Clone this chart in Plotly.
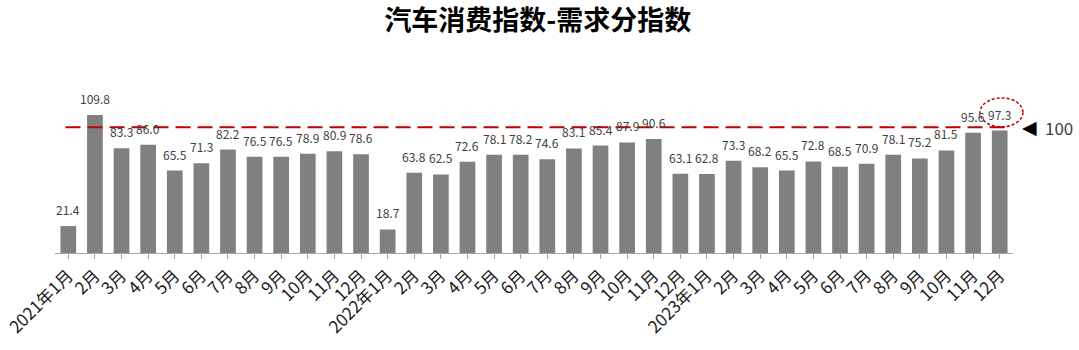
import plotly.graph_objects as go

# Monthly demand sub-index, Jan 2021 - Dec 2023
months = (["2021年1月"] + [f"{m}月" for m in range(2, 13)]
          + ["2022年1月"] + [f"{m}月" for m in range(2, 13)]
          + ["2023年1月"] + [f"{m}月" for m in range(2, 13)])
values = [21.4, 109.8, 83.3, 86.0, 65.5, 71.3, 82.2, 76.5, 76.5, 78.9, 80.9, 78.6,
          18.7, 63.8, 62.5, 72.6, 78.1, 78.2, 74.6, 83.1, 85.4, 87.9, 90.6, 63.1,
          62.8, 73.3, 68.2, 65.5, 72.8, 68.5, 70.9, 78.1, 75.2, 81.5, 95.6, 97.3]
reference_level = 100

# unique category keys so repeated month names stay separate
keys = list(range(len(months)))

FONT = "Noto Sans CJK SC"

fig = go.Figure(go.Bar(
    x=keys, y=values,
    marker=dict(color="#808080", line=dict(width=0)),
    hoverinfo="x+y",
))

# value labels above each bar
for k, v in zip(keys, values):
    fig.add_annotation(x=k, y=v, text=f"{v:.1f}", showarrow=False,
                       yanchor="bottom", yshift=6,
                       font=dict(family=FONT, size=12, color="#404040"))

# dashed reference line at 100
fig.add_shape(type="line", xref="paper", yref="y",
              x0=0.011, x1=0.997, y0=reference_level, y1=reference_level,
              line=dict(color="#C00000", width=2, dash="15px,7px"))

# dotted ring around the latest value
fig.add_shape(type="circle", xref="paper", yref="y",
              x0=0.9656, x1=1.0104, y0=100.3, y1=123.3,
              line=dict(color="#C00000", width=1.5, dash="3px,2px"))

fig.add_annotation(xref="paper", yref="y", x=1.0075, y=reference_level,
                   text="◀", showarrow=False, xanchor="left",
                   font=dict(family="DejaVu Sans", size=19, color="#000000"))
fig.add_annotation(xref="paper", yref="y", x=1.031, y=reference_level,
                   text=str(reference_level), showarrow=False, xanchor="left",
                   font=dict(family=FONT, size=17, color="#404040"))

fig.update_layout(
    width=1079, height=350,
    margin=dict(l=55, r=66, t=92, b=97, autoexpand=False),
    paper_bgcolor="white", plot_bgcolor="white",
    showlegend=False,
    bargap=0.41,
    title=dict(text="<b>汽车消费指数-需求分指数</b>", x=0.4985, xanchor="center",
               y=0.94, yanchor="middle",
               font=dict(family=FONT, size=27, color="#000000")),
    xaxis=dict(
        tickmode="array", tickvals=keys, ticktext=months,
        tickangle=-45, tickfont=dict(family=FONT, size=17, color="#1a1a1a"),
        showline=True, linecolor="#A6A6A6", linewidth=1,
        ticks="outside", tickson="boundaries", ticklen=5, tickcolor="#A6A6A6",
        showgrid=False, zeroline=False, automargin=False,
        range=[-0.5, len(keys) - 0.5],
    ),
    yaxis=dict(range=[0, 128], visible=False, showgrid=False, zeroline=False,
               automargin=False),
)

fig.write_html("out.html")
